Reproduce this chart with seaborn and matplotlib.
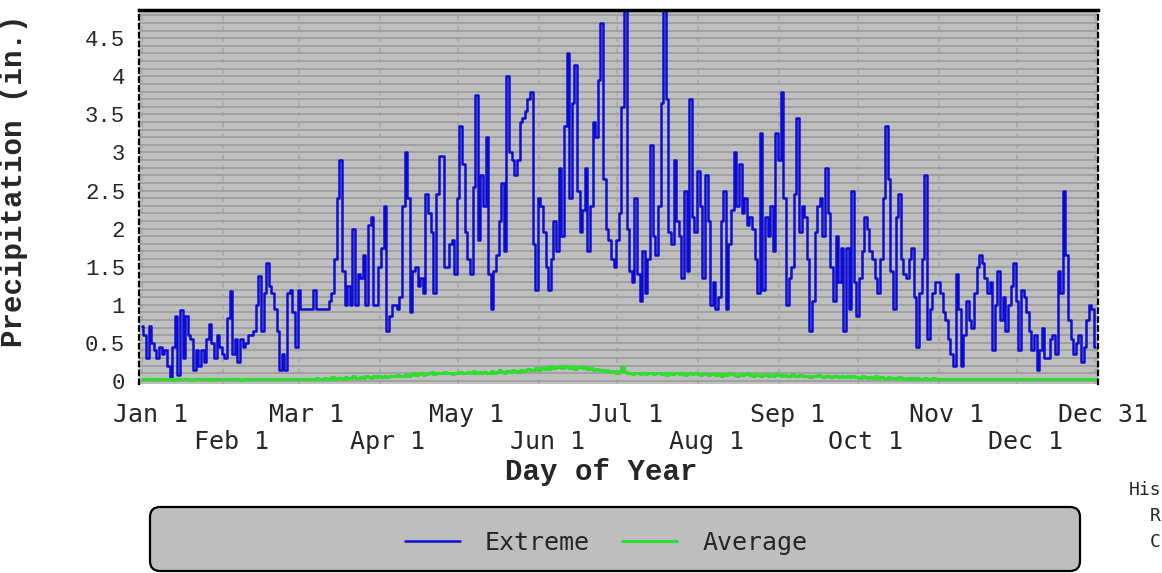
import matplotlib
matplotlib.use("Agg")
import matplotlib.pyplot as plt
import matplotlib.transforms as mtransforms
from matplotlib.patches import FancyBboxPatch
from matplotlib.ticker import FixedLocator, MultipleLocator
import seaborn as sns
import pandas as pd

# Tageswerte (Schaltjahr, Tag 0 = 1. Jan), eine Zeile pro Monat
extreme = [
    0.72, 0.6, 0.3, 0.72, 0.5, 0.4, 0.3, 0.45, 0.35, 0.4, 0.2, 0.05, 0.45, 0.85, 0.08, 0.93, 0.3, 0.85, 0.6, 0.55, 0.15, 0.4, 0.2, 0.4, 0.25, 0.55, 0.75, 0.5, 0.3, 0.6, 0.45,
    0.35, 0.3, 0.82, 1.18, 0.35, 0.55, 0.25, 0.55, 0.45, 0.5, 0.6, 0.6, 0.65, 1.0, 1.38, 0.65, 1.15, 1.55, 1.25, 1.15, 0.95, 0.65, 0.15, 0.35, 0.15, 1.15, 1.2, 0.9, 0.45,
    1.2, 0.95, 0.95, 0.95, 0.95, 0.95, 1.2, 0.95, 0.95, 0.95, 0.95, 0.95, 1.05, 1.15, 1.6, 2.4, 2.9, 1.45, 1.0, 1.25, 1.0, 2.0, 1.0, 1.4, 1.35, 1.65, 1.0, 2.05, 2.15, 1.0, 1.0,
    1.5, 1.75, 2.3, 0.65, 0.85, 1.0, 1.0, 0.95, 1.1, 2.3, 3.0, 2.4, 0.9, 1.45, 1.5, 1.25, 1.35, 1.15, 2.45, 2.2, 1.95, 1.15, 2.45, 2.95, 2.95, 1.5, 1.5, 1.8, 1.85, 1.4,
    2.4, 3.35, 2.85, 1.95, 1.6, 1.4, 2.55, 3.75, 1.85, 2.7, 2.3, 3.2, 1.4, 0.95, 1.45, 1.65, 2.1, 2.6, 1.7, 4.0, 3.0, 2.9, 2.7, 2.9, 3.4, 3.45, 3.55, 3.7, 3.8, 1.8, 1.2,
    2.4, 2.3, 1.95, 1.5, 1.2, 1.6, 2.1, 1.7, 2.8, 1.9, 3.35, 4.3, 2.4, 3.65, 4.15, 2.5, 1.95, 2.25, 2.8, 1.7, 2.3, 3.4, 3.2, 3.95, 4.7, 2.65, 2.0, 1.85, 1.6, 1.5,
    1.85, 2.2, 3.6, 4.9, 2.0, 1.45, 1.3, 2.4, 1.4, 1.05, 1.7, 1.15, 1.6, 3.1, 1.9, 1.65, 2.3, 3.65, 4.9, 3.7, 1.95, 1.8, 2.9, 2.1, 1.9, 1.35, 2.5, 1.45, 3.7, 2.15, 1.95,
    2.75, 2.3, 1.35, 2.7, 2.1, 1.0, 1.3, 0.95, 1.1, 2.1, 2.5, 0.95, 1.8, 2.25, 3.0, 2.3, 2.85, 2.2, 2.4, 2.05, 2.15, 2.0, 1.6, 1.15, 3.25, 1.2, 2.15, 1.9, 2.3, 1.7, 3.25,
    2.9, 3.8, 2.4, 1.0, 1.35, 1.5, 2.45, 3.45, 1.95, 2.3, 2.15, 1.6, 0.65, 1.05, 1.95, 2.3, 2.4, 1.9, 2.8, 2.2, 1.5, 1.05, 1.9, 1.3, 1.75, 0.65, 1.75, 0.95, 2.5, 1.3,
    0.85, 1.35, 1.7, 2.15, 2.0, 1.7, 1.6, 1.35, 1.15, 1.6, 2.4, 3.35, 2.65, 1.45, 0.95, 2.15, 2.45, 1.6, 1.4, 1.35, 1.6, 1.75, 1.1, 0.45, 1.15, 1.6, 2.7, 0.55, 0.95, 1.15, 1.3,
    1.3, 1.15, 0.9, 0.8, 0.55, 0.35, 0.2, 1.4, 0.95, 0.2, 0.6, 1.05, 0.8, 0.7, 1.15, 1.5, 1.65, 1.55, 1.35, 1.15, 1.3, 0.4, 1.0, 1.45, 0.8, 1.1, 0.65, 1.0, 1.25, 1.55,
    1.05, 0.4, 1.2, 1.1, 0.9, 0.65, 0.4, 0.6, 0.15, 0.4, 0.7, 0.3, 0.3, 0.55, 0.6, 0.35, 1.45, 1.15, 2.5, 1.65, 0.8, 0.55, 0.35, 0.5, 0.6, 0.25, 0.45, 0.8, 1.0, 0.95, 0.45,
]
average = [
    0.02, 0.02, 0.03, 0.02, 0.02, 0.01, 0.02, 0.02, 0.03, 0.02, 0.02, 0.02, 0.01, 0.02, 0.02, 0.03, 0.02, 0.02, 0.02, 0.01, 0.02, 0.02, 0.03, 0.02, 0.02, 0.02, 0.01, 0.02, 0.02, 0.02, 0.03,
    0.02, 0.02, 0.02, 0.03, 0.02, 0.02, 0.02, 0.01, 0.02, 0.02, 0.02, 0.03, 0.02, 0.02, 0.02, 0.02, 0.03, 0.02, 0.02, 0.02, 0.03, 0.02, 0.02, 0.02, 0.03, 0.02, 0.02, 0.03, 0.02,
    0.03, 0.02, 0.03, 0.03, 0.02, 0.03, 0.03, 0.04, 0.03, 0.03, 0.04, 0.03, 0.03, 0.05, 0.03, 0.04, 0.04, 0.03, 0.05, 0.04, 0.04, 0.06, 0.04, 0.04, 0.05, 0.04, 0.06, 0.05, 0.04, 0.06, 0.05,
    0.06, 0.05, 0.07, 0.05, 0.06, 0.07, 0.06, 0.08, 0.06, 0.07, 0.09, 0.07, 0.08, 0.10, 0.08, 0.09, 0.11, 0.08, 0.09, 0.10, 0.12, 0.09, 0.10, 0.11, 0.10, 0.12, 0.10, 0.11, 0.09, 0.11,
    0.10, 0.12, 0.11, 0.10, 0.12, 0.11, 0.13, 0.10, 0.12, 0.11, 0.12, 0.10, 0.11, 0.13, 0.11, 0.12, 0.14, 0.12, 0.11, 0.13, 0.12, 0.14, 0.13, 0.12, 0.15, 0.13, 0.14, 0.16, 0.14, 0.15, 0.17,
    0.15, 0.17, 0.16, 0.18, 0.16, 0.19, 0.17, 0.18, 0.20, 0.17, 0.19, 0.18, 0.17, 0.19, 0.16, 0.18, 0.20, 0.17, 0.18, 0.16, 0.17, 0.15, 0.16, 0.14, 0.15, 0.13, 0.14, 0.12, 0.13, 0.12,
    0.11, 0.13, 0.18, 0.12, 0.10, 0.11, 0.09, 0.10, 0.11, 0.09, 0.10, 0.09, 0.11, 0.10, 0.09, 0.10, 0.11, 0.09, 0.10, 0.08, 0.10, 0.09, 0.10, 0.11, 0.09, 0.10, 0.08, 0.09, 0.10, 0.09, 0.10,
    0.09, 0.08, 0.10, 0.09, 0.08, 0.09, 0.10, 0.08, 0.09, 0.07, 0.09, 0.08, 0.10, 0.09, 0.08, 0.07, 0.09, 0.08, 0.09, 0.10, 0.08, 0.07, 0.09, 0.08, 0.07, 0.08, 0.09, 0.07, 0.08, 0.07, 0.09,
    0.08, 0.07, 0.08, 0.06, 0.07, 0.09, 0.07, 0.06, 0.08, 0.07, 0.06, 0.07, 0.05, 0.07, 0.06, 0.08, 0.06, 0.05, 0.07, 0.06, 0.05, 0.06, 0.07, 0.05, 0.06, 0.05, 0.07, 0.05, 0.06, 0.05,
    0.05, 0.04, 0.06, 0.05, 0.04, 0.05, 0.04, 0.06, 0.04, 0.05, 0.04, 0.03, 0.05, 0.04, 0.04, 0.03, 0.05, 0.04, 0.03, 0.04, 0.03, 0.04, 0.03, 0.04, 0.03, 0.03, 0.04, 0.03, 0.03, 0.04, 0.03,
    0.03, 0.02, 0.03, 0.03, 0.02, 0.03, 0.02, 0.03, 0.02, 0.02, 0.03, 0.02, 0.03, 0.02, 0.02, 0.03, 0.02, 0.02, 0.03, 0.02, 0.02, 0.03, 0.02, 0.02, 0.03, 0.02, 0.02, 0.02, 0.03, 0.02,
    0.02, 0.02, 0.03, 0.02, 0.02, 0.02, 0.03, 0.02, 0.02, 0.02, 0.03, 0.02, 0.02, 0.02, 0.02, 0.03, 0.02, 0.02, 0.03, 0.02, 0.02, 0.02, 0.03, 0.02, 0.02, 0.02, 0.02, 0.03, 0.02, 0.02, 0.03,
]

# Achsenbeschriftung: obere und untere Reihe der Monatsanfänge
top_days = [0, 60, 121, 182, 244, 305, 365]
top_labels = ["Jan 1", "Mar 1", "May 1", "Jul 1", "Sep 1", "Nov 1", "Dec 31"]
bottom_days = [31, 91, 152, 213, 274, 335]
bottom_labels = ["Feb 1", "Apr 1", "Jun 1", "Aug 1", "Oct 1", "Dec 1"]
y_ticks = [0, 0.5, 1, 1.5, 2, 2.5, 3, 3.5, 4, 4.5]
y_labels = ["0", "0.5", "1", "1.5", "2", "2.5", "3", "3.5", "4", "4.5"]

df = pd.DataFrame({"day": range(len(extreme)), "Extreme": extreme, "Average": average})

sns.set_style("white")
fig = plt.figure(figsize=(11.62, 5.73), dpi=100)
ax = fig.add_axes([139 / 1162, 1 - 384 / 573, (1098 - 139) / 1162, (384 - 10) / 573])

sns.lineplot(data=df, x="day", y="Extreme", color="#0c0cd4", lw=1.8,
             drawstyle="steps-mid", estimator=None, label="Extreme", ax=ax)
sns.lineplot(data=df, x="day", y="Average", color="#30dc30", lw=2.2,
             drawstyle="steps-mid", estimator=None, label="Average", ax=ax)
if ax.get_legend() is not None:
    ax.get_legend().remove()

ax.set_xlim(-1.2, 366)
ax.set_ylim(-0.04, 4.87)
ax.set_facecolor("#bfbfbf")
ax.set_axisbelow(True)

# Streifen-Gitter
ax.yaxis.set_major_locator(FixedLocator(y_ticks))
ax.set_yticklabels(y_labels)
ax.yaxis.set_minor_locator(MultipleLocator(0.1))
ax.grid(which="both", axis="y", color="#9e9e9e", lw=1.3)

ax.set_xticks(top_days)
ax.set_xticklabels(top_labels)
ax.set_xticks(bottom_days, minor=True)
ax.set_xticklabels(bottom_labels, minor=True)
ax.grid(which="both", axis="x", color="#a6a6a6", lw=1.1, ls=(0, (3, 4)))

ax.tick_params(axis="x", which="major", length=0, pad=14, labelsize=18)
ax.tick_params(axis="x", which="minor", length=0, pad=33, labelsize=18)
ax.tick_params(axis="y", which="both", length=0, pad=10, labelsize=16)

offset = mtransforms.ScaledTranslation(8 / 100, 0, fig.dpi_scale_trans)
for lbl in ax.get_xticklabels(which="both"):
    lbl.set_fontfamily("DejaVu Sans Mono")
    lbl.set_transform(lbl.get_transform() + offset)
for lbl in ax.get_yticklabels():
    lbl.set_fontfamily("Liberation Mono")

# Rahmen
ax.spines["top"].set(color="black", lw=2.5)
for side in ["left", "right"]:
    ax.spines[side].set(color="black", lw=1.6, ls=(0, (2, 2)))
ax.spines["bottom"].set_visible(False)

ax.set_ylabel("Precipitation (in.)", fontfamily="Liberation Mono",
              fontweight="bold", fontsize=21)
ax.yaxis.set_label_coords(-0.116, 0.543)
ax.set_xlabel("Day of Year", fontfamily="Liberation Mono",
              fontweight="bold", fontsize=21)
ax.xaxis.set_label_coords(0.482, -0.197)

# Legende im abgerundeten Kasten
box = FancyBboxPatch((1.50, 0.02), 9.30, 0.64,
                     boxstyle="round,pad=0,rounding_size=0.10",
                     transform=fig.dpi_scale_trans, facecolor="#bebebe",
                     edgecolor="black", lw=1.6)
fig.add_artist(box)
handles, labels = ax.get_legend_handles_labels()
fig.legend(handles, labels, loc="center", bbox_to_anchor=(606 / 1162, 1 - 543 / 573),
           ncol=2, frameon=False, prop={"family": "DejaVu Sans Mono", "size": 18},
           handlelength=2.2, handletextpad=1.0, columnspacing=1.3)

# sichtbarer Rest des Textes am rechten Rand
side_text = [("His", 490), ("R", 516), ("C", 542)]
for txt, py in side_text:
    fig.text(1161 / 1162, 1 - py / 573, txt, fontfamily="DejaVu Sans Mono",
             fontsize=13, va="center", ha="right")

fig.savefig("out.png", dpi=100)
